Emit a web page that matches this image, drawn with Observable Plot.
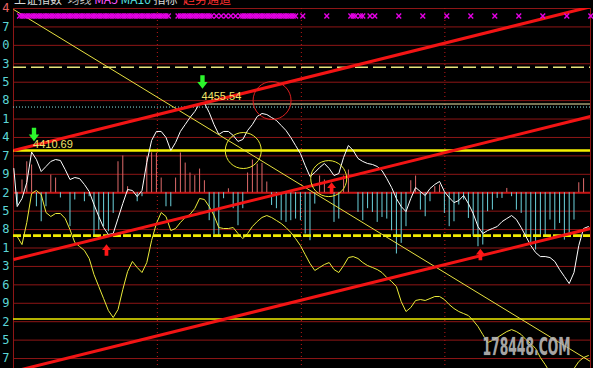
<!DOCTYPE html>
<html><head><meta charset="utf-8">
<script src="https://cdn.jsdelivr.net/npm/d3@7"></script>
<script src="https://cdn.jsdelivr.net/npm/@observablehq/plot@0.6"></script>
<style>
html,body{margin:0;padding:0;background:#000;overflow:hidden}
#wrap{position:relative;width:593px;height:368px;overflow:hidden;background:#000}
#chart svg{display:block}
#title{position:absolute;left:14px;top:-8px;font:12px "Noto Sans CJK SC","DejaVu Sans",sans-serif;line-height:14px;white-space:pre;color:#d0d0d0}
</style></head><body>
<div id="wrap"><div id="chart"></div>
<div id="title"><span style="color:#d8d8d8">上证指数</span>  <span style="color:#bdbdbd">均线</span> <span style="color:#ff55ff">MA5</span> <span style="color:#55e0e0">MA10</span> <span style="color:#d8d8d8">指标</span>  <span style="color:#ff3030">趋势通道</span></div>
</div>
<script>
// Y gridline values (price) and their truncated tick labels as displayed
const gridValues = [4544.7,4527.5,4510.3,4493.1,4475.9,4458.7,4441.5,4424.3,4407.1,4389.9,4372.7,4355.5,4338.3,4321.1,4303.9,4286.7,4269.5,4252.3,4235.1,4217.9];
const tickLabels = ["4","7","0","3","5","8","1","4","7","9","2","5","8","1","3","6","9","2","5","7"];

// White line (index), one value per bar slot 0..119, plus its starting point
const whiteStart = {slot: -0.7, value: 4395.3};
const white = [4359.8,4367.3,4382.2,4410.7,4403.7,4392.5,4397.2,4401.9,4403.7,4402.8,
4394.3,4385.0,4386.9,4385.9,4380.4,4373.8,4361.7,4350.5,4340.2,4333.7,
4334.6,4348.6,4362.6,4375.7,4374.8,4369.1,4374.8,4400.9,4421.5,4429.9,
4429.9,4424.3,4412.1,4419.6,4429.9,4436.4,4442.9,4448.5,4456.0,4456.5,
4447.6,4436.4,4427.1,4429.9,4429.9,4426.2,4420.6,4422.4,4430.8,4436.4,
4443.9,4446.7,4445.7,4442.9,4440.2,4435.5,4430.8,4424.3,4416.8,4409.3,
4398.1,4387.8,4391.6,4396.2,4400.0,4395.3,4388.8,4390.6,4405.6,4416.8,
4412.1,4404.7,4401.9,4400.0,4399.1,4397.2,4393.4,4385.9,4377.6,4367.3,
4359.8,4355.1,4367.3,4377.6,4373.8,4370.1,4376.6,4380.4,4383.2,4373.8,
4368.2,4363.5,4365.4,4370.1,4362.6,4353.3,4341.1,4334.6,4337.4,4339.3,
4341.1,4345.7,4348.6,4351.4,4347.7,4340.2,4331.8,4323.4,4316.9,4313.1,
4313.1,4312.2,4308.5,4301.0,4294.5,4287.9,4298.2,4323.4,4339.3,4341.1];

// Yellow wavy line, one value per slot 0..119
const yellow = [4331.8,4324.3,4344.9,4372.0,4374.8,4371.0,4354.2,4350.5,4353.3,4353.3,
4348.6,4338.3,4326.2,4322.5,4318.8,4311.3,4296.3,4285.1,4273.9,4262.7,
4256.2,4263.6,4282.3,4299.1,4308.5,4302.9,4298.2,4307.5,4328.1,4344.0,
4354.2,4350.5,4337.4,4339.3,4344.9,4349.6,4352.4,4358.0,4367.3,4366.4,
4359.8,4351.4,4340.2,4339.3,4339.3,4340.2,4334.6,4329.9,4334.6,4341.2,
4345.8,4349.6,4351.4,4349.6,4346.8,4344.0,4340.2,4335.6,4329.9,4323.4,
4315.0,4306.6,4300.1,4302.9,4305.7,4307.5,4301.0,4298.2,4304.7,4312.2,
4313.1,4311.3,4307.5,4304.7,4302.9,4301.0,4298.2,4293.5,4289.8,4285.1,
4271.1,4261.8,4265.5,4272.1,4273.0,4272.1,4273.9,4275.8,4275.8,4273.0,
4268.3,4264.6,4261.8,4259.9,4258.0,4253.4,4247.8,4240.3,4232.8,4234.7,
4237.5,4240.3,4243.1,4244.9,4243.1,4240.3,4235.6,4231.9,4227.3,4218.8,
4212.3,4204.8,4199.2,4197.4,4199.2,4202.9,4208.5,4215.1,4218.8,4220.7];

// Histogram values (points above/below the zero line), slots 0..118
const bars = [-11.5,11.9,28.9,25.9,-13.1,-27.1,-13.1,16.5,13.7,-4.9,
0,-31.7,-6.8,0,-8.4,-3.7,-41.1,-34.8,-31.7,-36.4,
-19.3,28.9,34.3,5.6,0,-8.4,-3.7,33.6,37.3,36.8,
13.7,-13.1,-13.1,13.7,37.1,27.7,18.4,15.9,22.1,11.2,
-26.1,-39.2,-41.7,-5.6,3.7,-14.9,-30.8,-14.9,18.4,30.5,
26.8,27.4,10.0,-11.9,-14.9,-26.1,-27.7,-26.1,-24.6,-26.1,
-38.6,-44.8,-10.6,15.6,11.9,0,-27.7,-24.6,15.6,21.2,
0,-18.4,-26.1,-14.9,-18.4,-27.7,-23.1,-24.6,-35.5,-57.2,
-47.3,-31.7,11.2,15.6,-16.2,-22.4,-8.4,5.6,7.2,-19.3,
-31.7,-27.1,-11.5,-6.8,-24.0,-41.1,-50.4,-48.8,-17.7,-16.2,
-5.3,-5.3,4.0,-3.7,-16.2,-19.3,-41.1,-47.3,-53.5,-41.1,
-41.1,-25.5,-34.8,-28.7,-44.2,-41.1,-25.5,9.3,13.1];
const barZero = 4372.7;

// Signal markers row (slots)
const markerLevel = 4537.7;
const markA = [1,2,3,4,5,6,7,8,9,10,11,12,13,14,15,16,17,18,19,20,21,22,23,24,25,26,27,28,29,30,31,32,34,35,36,37,38,39,40,41,42,43,44,45,46,47,48,49,50,51,52,53,54,55,56,57,58,60,65,70,71,72,74,75,80,85,90,95,100,105,110,115,120];
const markB = [1,2,3,4,5,6,7,8,9,10,11,12,13,14,15,16,17,18,19,20,21,22,23,24,25,26,27,28,29,30,31,34,35,36,37,38,39,40,47,48,49,50,51,52,53,54,55,56,57,58,70,72];

// Period dividers (slot positions)
const dividers = [29.2, 59.2, 89.1];

// Horizontal reference levels
const levelDash = 4489.9;
const levelDot = 4452.7;
const levelSolid = 4412.1;
const levelThickDash = 4332.7;
const levelThin = 4254.8;

// Trend lines: [start value, end value] across the full period
const channelLines = [
  {x1: -0.77, y1: 4412.1, x2: 119.44, y2: 4546.3},
  {x1: -0.77, y1: 4310.3, x2: 119.44, y2: 4443.9},
  {x1: -0.77, y1: 4205.8, x2: 119.44, y2: 4339.3}
];
const downLine = [{x1: -0.77, y1: 4543.8, x2: 119.44, y2: 4215.1}];

// Highs with labels
const peaks = [
  {slot: 3.3, value: 4410.69, label: "4410.69"},
  {slot: 38.4, value: 4455.54, label: "4455.54"}
];
const greenArrows = [{slot: 3.5, value: 4427.1}, {slot: 38.6, value: 4476.1}];
const redArrows = [{slot: 18.6, value: 4319.2}, {slot: 65.5, value: 4377.1}, {slot: 96.5, value: 4315.0}];
const circlesRed = [{slot: 53.1, value: 4458.8}];
const circlesYellow = [{slot: 47.1, value: 4412.1}, {slot: 64.9, value: 4385.9}];

const watermark = "178448.COM";

// ---- build ----
const xDomain = [-0.77, 119.44];
const yDomain = [4208.6, 4544.7];
const gridRows = gridValues.map((v, i) => ({value: v, label: tickLabels[i], first: i === 0}));
const whiteData = [whiteStart, ...white.map((v, i) => ({slot: i, value: v}))];
const yellowData = yellow.map((v, i) => ({slot: i, value: v}));
const barData = bars.map((v, i) => ({slot: i, v})).filter(d => d.v !== 0);

function blockArrow(dir) {
  return {draw(ctx, size) {
    const r = Math.sqrt(size / Math.PI), w = 0.42 * r, h = 1.3 * r * dir;
    ctx.moveTo(-w, -h); ctx.lineTo(w, -h); ctx.lineTo(w, 0); ctx.lineTo(r, 0);
    ctx.lineTo(0, h); ctx.lineTo(-r, 0); ctx.lineTo(-w, 0); ctx.closePath();
  }};
}

const chart = Plot.plot({
  width: 593, height: 368,
  marginLeft: 13, marginRight: 3, marginTop: 8, marginBottom: 0,
  style: {background: "#000", fontFamily: "Liberation Sans"},
  x: {domain: xDomain, axis: null},
  y: {domain: yDomain, axis: null},
  color: {type: "identity"},
  marks: [
    Plot.ruleY(gridValues, {stroke: "#8e1616", strokeWidth: 1}),
    Plot.ruleY([barZero], {stroke: "#c41414", strokeWidth: 2}),
    Plot.ruleX(dividers, {stroke: "#c01818", strokeDasharray: "1,3", strokeWidth: 1}),
    Plot.ruleX(xDomain, {stroke: "#8e1616", strokeWidth: 1}),
    Plot.ruleX(barData, {x: "slot", y1: () => barZero, y2: d => barZero + d.v,
      stroke: d => d.v > 0 ? "#de6a6a" : "#6cd2dc", strokeWidth: 1}),
    Plot.ruleY([levelDot], {stroke: "#8fe8e8", strokeDasharray: "1,2", strokeWidth: 1}),
    Plot.ruleY([levelDash], {stroke: "#e6e27a", strokeDasharray: "13,5", strokeWidth: 1.5}),
    Plot.ruleY([levelSolid], {stroke: "#f5f000", strokeWidth: 2.6}),
    Plot.ruleY([levelThickDash], {stroke: "#f0ec00", strokeDasharray: "8,2", strokeWidth: 2.6}),
    Plot.ruleY([levelThin], {stroke: "#f0ec00", strokeWidth: 1.3}),
    Plot.ruleY([peaks[1]], {y: "value", x1: "slot", x2: () => xDomain[1], stroke: "#f2e6a8", strokeWidth: 1}),
    Plot.line(yellowData, {x: "slot", y: "value", stroke: "#ecec3a", strokeWidth: 1, clip: true}),
    Plot.line(whiteData, {x: "slot", y: "value", stroke: "#ffffff", strokeWidth: 1, clip: true}),
    Plot.link(downLine, {x1: "x1", y1: "y1", x2: "x2", y2: "y2", stroke: "#e8e040", strokeWidth: 1, clip: true}),
    Plot.link(channelLines, {x1: "x1", y1: "y1", x2: "x2", y2: "y2", stroke: "#f21414", strokeWidth: 3, clip: true}),
    Plot.dot(circlesRed, {x: "slot", y: "value", r: 19, stroke: "#e02020", fill: "none", strokeWidth: 1}),
    Plot.dot(circlesYellow, {x: "slot", y: "value", r: 18, stroke: "#e8e830", fill: "none", strokeWidth: 1}),
    Plot.dot(markA, {x: d => d, y: () => markerLevel, symbol: "times", r: 2.3, dx: -2.4, stroke: "#e600e6", strokeWidth: 1.4}),
    Plot.dot(markB, {x: d => d, y: () => markerLevel, symbol: "times", r: 2.3, stroke: "#e600e6", strokeWidth: 1.4}),
    Plot.text(peaks, {x: "slot", y: "value", text: "label", textAnchor: "start", lineAnchor: "bottom", dy: -4,
      fill: "#f2e46a", fontSize: 11, fontFamily: "Liberation Sans"}),
    Plot.dot(greenArrows, {x: "slot", y: "value", symbol: blockArrow(1), r: 5.2, fill: "#2cf52c", stroke: "none"}),
    Plot.dot(redArrows, {x: "slot", y: "value", symbol: blockArrow(-1), r: 4.4, fill: "#ff1818", stroke: "none"}),
    Plot.text(gridRows, {frameAnchor: "left", y: "value", text: "label", textAnchor: "end", dx: -4,
      fill: d => d.first ? "#e86060" : "#5cd6d6", fontSize: 12, fontFamily: "DejaVu Sans Mono"}),
    Plot.text([watermark], {frameAnchor: "bottom-right", text: d => d, textAnchor: "end", lineAnchor: "bottom",
      dx: -20, dy: -14, fontSize: 24, fontWeight: "bold", fill: "#bcbcbc", fillOpacity: 0.9,
      stroke: "#3a3a3a", strokeWidth: 0.6, fontFamily: "DejaVu Sans Condensed"})
  ]
});
d3.select(chart).selectAll("text").filter(function() { return this.textContent === watermark; })
  .attr("textLength", 88).attr("lengthAdjust", "spacingAndGlyphs");
document.getElementById("chart").appendChild(chart);
</script>
</body></html>
